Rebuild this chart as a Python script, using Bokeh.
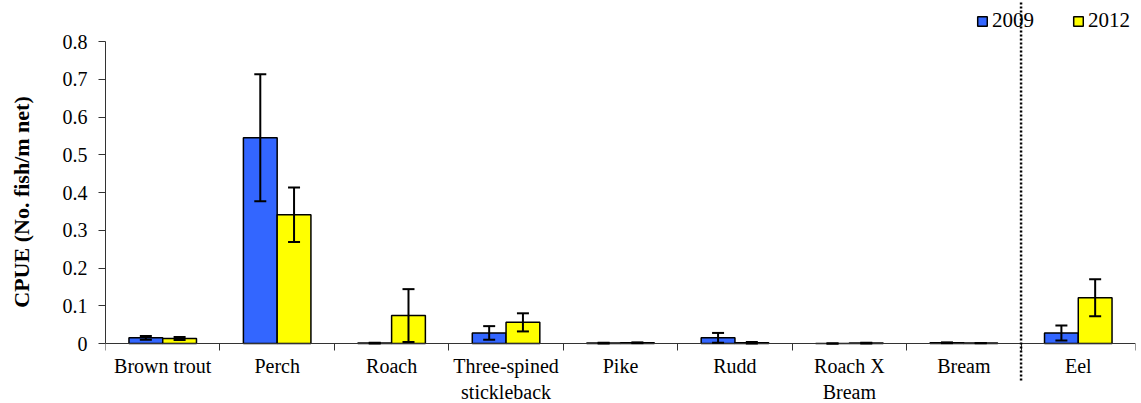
from bokeh.plotting import figure
from bokeh.models import (ColumnDataSource, Range1d, FixedTicker, Whisker, TeeHead,
                          Legend, LegendItem, Arrow)
from bokeh.embed import file_html
from bokeh.resources import INLINE

# ---- data ----
categories = ["Brown trout", "Perch", "Roach", "Three-spined\nstickleback", "Pike",
              "Rudd", "Roach X\nBream", "Bream", "Eel"]
cpue_2009 = [0.015, 0.545, 0.001, 0.028, 0.001, 0.015, 0.0, 0.002, 0.028]
err_2009 = [0.005, 0.168, 0.001, 0.018, 0.001, 0.013, 0.0, 0.001, 0.020]
cpue_2012 = [0.013, 0.341, 0.074, 0.056, 0.002, 0.002, 0.001, 0.001, 0.121]
err_2012 = [0.004, 0.072, 0.070, 0.024, 0.001, 0.002, 0.001, 0.0, 0.049]
y_ticks = [0, 0.1, 0.2, 0.3, 0.4, 0.5, 0.6, 0.7, 0.8]
y_tick_labels = ["0", "0.1", "0.2", "0.3", "0.4", "0.5", "0.6", "0.7", "0.8"]
series_names = ["2009", "2012"]
divider_after = 8  # dotted divider between Bream and Eel

FONT = "Times"
BAR_W = 0.295

n = len(categories)
centers = [i + 0.5 for i in range(n)]

src09 = ColumnDataSource(dict(
    x=[c - BAR_W / 2 for c in centers], top=cpue_2009,
    upper=[v + e for v, e in zip(cpue_2009, err_2009)],
    lower=[v - e for v, e in zip(cpue_2009, err_2009)]))
src12 = ColumnDataSource(dict(
    x=[c + BAR_W / 2 for c in centers], top=cpue_2012,
    upper=[v + e for v, e in zip(cpue_2012, err_2012)],
    lower=[v - e for v, e in zip(cpue_2012, err_2012)]))

# frame covers the full figure height; 0..0.8 maps to y 343..41
PX = 302 / 0.8
FIG_H = 403
top_pad = 41
y_hi = 0.8 + top_pad / PX
y_lo = -(FIG_H - top_pad - 302) / PX

p = figure(width=1141, height=FIG_H, output_backend="svg", toolbar_location=None,
           x_range=Range1d(0, n), y_range=Range1d(y_lo, y_hi),
           min_border_left=105, min_border_right=6, min_border_top=0, min_border_bottom=0)
p.outline_line_color = None
p.xgrid.visible = False
p.ygrid.visible = False

r09 = p.vbar(x="x", top="top", width=BAR_W, source=src09, fill_color="#3366FF",
             line_color="black", line_width=1.5)
r12 = p.vbar(x="x", top="top", width=BAR_W, source=src12, fill_color="#FFFF00",
             line_color="black", line_width=1.5)

for src in (src09, src12):
    w = Whisker(source=src, base="x", upper="upper", lower="lower", dimension="height",
                line_color="black", line_width=2, level="overlay",
                upper_head=TeeHead(size=12, line_width=2, line_color="black"),
                lower_head=TeeHead(size=12, line_width=2, line_color="black"))
    p.add_layout(w)

# axes
xa = p.xaxis[0]
xa.fixed_location = 0
xa.ticker = FixedTicker(ticks=centers, minor_ticks=list(range(n + 1)))
xa.major_label_overrides = {c: lab for c, lab in zip(centers, categories)}
xa.major_tick_out = 0
xa.major_tick_in = 0
xa.minor_tick_out = 7
xa.minor_tick_in = 0
xa.major_label_standoff = 4
xa.major_label_text_font = FONT
xa.major_label_text_font_size = "20px"
xa.major_label_text_color = "black"
xa.axis_line_color = "#333333"
xa.minor_tick_line_color = "#333333"

ya = p.yaxis[0]
ya.bounds = (0, 0.8)
ya.ticker = FixedTicker(ticks=y_ticks, minor_ticks=[])
ya.major_label_overrides = {t: lab for t, lab in zip(y_ticks, y_tick_labels)}
ya.major_tick_out = 7
ya.major_tick_in = 0
ya.major_label_standoff = 11
ya.major_label_text_font = FONT
ya.major_label_text_font_size = "20px"
ya.major_label_text_color = "black"
ya.axis_line_color = "#333333"
ya.major_tick_line_color = "#333333"
ya.axis_label = "CPUE (No. fish/m net)"
ya.axis_label_text_font = FONT
ya.axis_label_text_font_size = "22px"
ya.axis_label_text_font_style = "bold"
ya.axis_label_text_color = "black"
ya.axis_label_standoff = 26

# dotted divider
p.add_layout(Arrow(end=None, x_start=divider_after, x_end=divider_after,
                   y_start=-37 / PX, y_end=y_hi, line_color="black", line_width=2.5,
                   line_dash="2 2", level="overlay"))

legend = Legend(items=[LegendItem(label=series_names[0], renderers=[r09]),
                       LegendItem(label=series_names[1], renderers=[r12])],
                orientation="horizontal", location=(871, 370),
                glyph_width=12, glyph_height=12, label_standoff=4, spacing=38,
                padding=0, margin=0, border_line_color=None, background_fill_alpha=0,
                label_text_font=FONT, label_text_font_size="21px", label_text_color="black")
p.add_layout(legend, "center")

open("out.html", "w").write(file_html(p, INLINE))
